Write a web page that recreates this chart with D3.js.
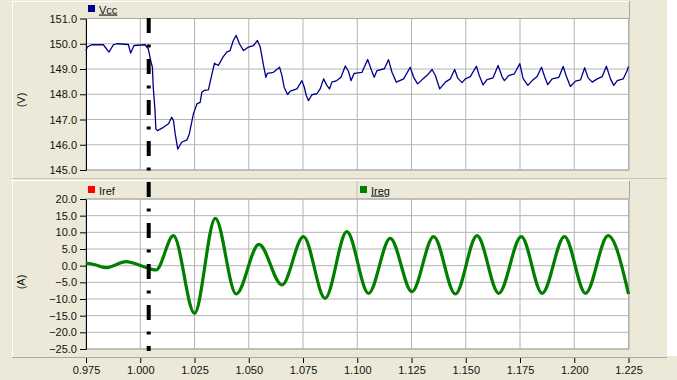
<!DOCTYPE html>
<html>
<head>
<meta charset="utf-8">
<script src="https://cdn.jsdelivr.net/npm/d3@7"></script>
<style>
  body { margin: 0; background: #fff; }
  svg { display: block; font-family: "Liberation Sans", Arial, sans-serif; }
</style>
</head>
<body>
<svg id="chart" width="677" height="380"></svg>
<script>
// x axis (time, s)
var xTicks = [0.975, 1.000, 1.025, 1.050, 1.075, 1.100, 1.125, 1.150, 1.175, 1.200, 1.225];
var vccTicks = [145, 146, 147, 148, 149, 150, 151];
var ampTicks = [-25, -20, -15, -10, -5, 0, 5, 10, 15, 20];
var eventTime = 1.0039;

// Vcc (V)
var vccTime = [0.9750, 0.9756, 0.9776, 0.9830, 0.9856, 0.9876, 0.9892, 0.9945, 0.9956, 0.9971,
  1.0022, 1.0037, 1.0048, 1.0056, 1.0060, 1.0068, 1.0072, 1.0079, 1.0107, 1.0130,
  1.0145, 1.0153, 1.0161, 1.0173, 1.0191, 1.0215, 1.0226, 1.0245, 1.0261, 1.0276,
  1.0284, 1.0294, 1.0314, 1.0322, 1.0342, 1.0360, 1.0381, 1.0399, 1.0414, 1.0429,
  1.0442, 1.0457, 1.0476, 1.0499, 1.0522, 1.0540, 1.0553, 1.0568, 1.0579, 1.0586,
  1.0614, 1.0642, 1.0653, 1.0663, 1.0679, 1.0691, 1.0722, 1.0745, 1.0756, 1.0765,
  1.0775, 1.0791, 1.0814, 1.0829, 1.0845, 1.0860, 1.0872, 1.0883, 1.0906, 1.0925,
  1.0945, 1.0960, 1.0971, 1.0986, 1.1022, 1.1048, 1.1063, 1.1078, 1.1091, 1.1125,
  1.1144, 1.1160, 1.1180, 1.1214, 1.1244, 1.1260, 1.1278, 1.1298, 1.1321, 1.1345,
  1.1360, 1.1380, 1.1406, 1.1429, 1.1449, 1.1463, 1.1483, 1.1498, 1.1521, 1.1549,
  1.1564, 1.1580, 1.1598, 1.1626, 1.1649, 1.1667, 1.1678, 1.1698, 1.1724, 1.1749,
  1.1764, 1.1786, 1.1806, 1.1829, 1.1849, 1.1867, 1.1878, 1.1898, 1.1929, 1.1949,
  1.1964, 1.1982, 1.2006, 1.2029, 1.2048, 1.2064, 1.2083, 1.2106, 1.2129, 1.2148,
  1.2167, 1.2182, 1.2198, 1.2226, 1.2244, 1.2250];
var vccValues = [149.73, 149.87, 149.96, 149.96, 149.67, 149.96, 150.00, 149.97, 149.63, 149.93,
  149.96, 149.80, 149.34, 149.07, 148.28, 147.35, 146.63, 146.56, 146.69, 146.83,
  147.09, 146.96, 146.43, 145.83, 146.10, 146.19, 146.43, 147.22, 147.62, 147.68,
  148.08, 148.15, 148.17, 148.48, 149.23, 149.14, 149.47, 149.67, 149.73, 150.13,
  150.33, 150.00, 149.73, 149.87, 149.93, 150.13, 149.87, 149.14, 148.67, 148.83,
  148.87, 149.07, 148.74, 148.28, 147.99, 148.12, 148.21, 148.54, 148.28, 147.95,
  147.75, 147.98, 148.02, 148.21, 148.61, 148.35, 148.21, 148.48, 148.54, 148.67,
  149.12, 148.90, 148.54, 148.83, 148.87, 149.38, 149.01, 148.67, 148.94, 149.01,
  149.37, 148.87, 148.48, 148.61, 149.07, 148.67, 148.41, 148.57, 148.74, 148.98,
  148.74, 148.21, 148.48, 148.61, 148.98, 148.64, 148.46, 148.61, 148.70, 149.11,
  148.70, 148.37, 148.58, 148.65, 149.14, 148.70, 148.54, 148.74, 148.81, 149.21,
  148.63, 148.35, 148.54, 148.70, 149.07, 148.61, 148.38, 148.61, 148.67, 149.10,
  148.70, 148.31, 148.52, 148.57, 149.05, 148.65, 148.48, 148.61, 148.70, 149.11,
  148.61, 148.35, 148.54, 148.61, 148.94, 149.10];

// Ireg / Iref (A): turning points of the current waveform
var ampTime = [0.9750, 0.9796, 0.9842, 0.9935, 1.0004, 1.0073, 1.0153, 1.0250, 1.0346, 1.0442,
  1.0547, 1.0653, 1.0752, 1.0852, 1.0952, 1.1052, 1.1152, 1.1252, 1.1352, 1.1452,
  1.1552, 1.1652, 1.1756, 1.1852, 1.1955, 1.2052, 1.2156, 1.2250];
var iregValues = [0.8, 0.2, -0.6, 1.2, 0.0, -1.3, 9.0, -14.3, 14.2, -8.5,
  6.4, -5.8, 8.7, -9.8, 10.2, -8.3, 8.2, -7.8, 8.7, -8.5,
  9.0, -8.3, 8.7, -8.3, 8.7, -8.3, 9.0, -8.5];
var irefValues = iregValues.slice();

var svg = d3.select("#chart");
var W = 677, H = 380;
var bg = "#ece9d8", gridColor = "#b4b4b4";

var x = d3.scaleLinear().domain([0.975, 1.225]).range([86, 628.5]);
var yV = d3.scaleLinear().domain([145, 151]).range([170, 18.5]);
var yA = d3.scaleLinear().domain([-25, 20]).range([349, 199]);

// window background
svg.append("rect").attr("width", W).attr("height", H).attr("fill", bg);
svg.append("rect").attr("x", 667).attr("width", 10).attr("height", 356).attr("fill", "#fff");

function hline(y, x1, x2, color) {
  svg.append("line").attr("x1", x1).attr("x2", x2).attr("y1", y).attr("y2", y)
    .attr("stroke", color).attr("stroke-width", 1);
}
function vline(xp, y1, y2, color) {
  svg.append("line").attr("x1", xp).attr("x2", xp).attr("y1", y1).attr("y2", y2)
    .attr("stroke", color).attr("stroke-width", 1);
}

// frame bevels
vline(12.5, 1, 357, "#fff");
hline(1.5, 12, 629, "#fff");
vline(629.5, 1, 19, "#a8a8a8");
hline(178.5, 12, 667, "#c8c5b5");
hline(180.5, 12, 629, "#fff");
vline(629.5, 181, 199, "#a8a8a8");
vline(357, 181, 199, "#c0c0c0");
hline(357.5, 12, 667, "#a8a8a8");

function panel(yScale, ticks) {
  var top = yScale.range()[1], bottom = yScale.range()[0];
  var g = svg.append("g");
  g.append("rect").attr("x", 86).attr("y", top).attr("width", 629 - 86).attr("height", bottom - top)
    .attr("fill", "#fff");
  g.selectAll(".hg").data(ticks).enter().append("line")
    .attr("x1", 86).attr("x2", 629)
    .attr("y1", function(d) { return yScale(d); }).attr("y2", function(d) { return yScale(d); })
    .attr("stroke", gridColor);
  g.selectAll(".vg").data(xTicks.slice(1)).enter().append("line")
    .attr("x1", function(d) { return x(d); }).attr("x2", function(d) { return x(d); })
    .attr("y1", top).attr("y2", bottom)
    .attr("stroke", gridColor);
  g.append("rect").attr("x", 86).attr("y", top).attr("width", 629 - 86).attr("height", bottom - top)
    .attr("fill", "none").attr("stroke", "#a8a8a8");

  var ax = svg.append("g").attr("transform", "translate(86,0)")
    .call(d3.axisLeft(yScale).tickValues(ticks).tickFormat(d3.format(".1f"))
      .tickSize(6).tickPadding(3).tickSizeOuter(0));
  ax.selectAll("text").attr("font-family", "Liberation Sans, Arial, sans-serif")
    .attr("font-size", 11).attr("fill", "#111");
  ax.select(".domain").attr("stroke", "#000");
  ax.selectAll(".tick line").attr("stroke", "#000");
}

panel(yV, vccTicks);
panel(yA, ampTicks);

// traces
var vccLine = d3.line()
  .x(function(d, i) { return x(vccTime[i]); })
  .y(function(d) { return yV(d); });
svg.append("path").datum(vccValues).attr("d", vccLine)
  .attr("fill", "none").attr("stroke", "#00008b").attr("stroke-width", 1.3)
  .attr("stroke-linejoin", "round");

var ampLine = d3.line()
  .x(function(d, i) { return x(ampTime[i]); })
  .y(function(d) { return yA(d); })
  .curve(d3.curveMonotoneX);
svg.append("path").datum(irefValues).attr("d", ampLine)
  .attr("fill", "none").attr("stroke", "#ff0000").attr("stroke-width", 2);
svg.append("path").datum(iregValues).attr("d", ampLine)
  .attr("fill", "none").attr("stroke", "#008000").attr("stroke-width", 3.2)
  .attr("stroke-linejoin", "round");

// event marker
svg.append("line")
  .attr("x1", x(eventTime)).attr("x2", x(eventTime))
  .attr("y1", 18).attr("y2", 351)
  .attr("stroke", "#000").attr("stroke-width", 4)
  .attr("stroke-dasharray", "15,11.5,3,11.5");

// x axis
var xa = svg.append("g").attr("transform", "translate(0,358)")
  .call(d3.axisBottom(x).tickValues(xTicks).tickFormat(d3.format(".3f"))
    .tickSize(5).tickPadding(3).tickSizeOuter(0));
xa.select(".domain").remove();
xa.selectAll(".tick line").attr("stroke", "#000");
xa.selectAll("text").attr("font-family", "Liberation Sans, Arial, sans-serif")
  .attr("font-size", 11).attr("fill", "#111");

// axis titles
svg.append("text").attr("transform", "translate(25,100) rotate(-90)")
  .attr("text-anchor", "middle").attr("font-size", 11).attr("fill", "#111").text("(V)");
svg.append("text").attr("transform", "translate(25,282) rotate(-90)")
  .attr("text-anchor", "middle").attr("font-size", 11).attr("fill", "#111").text("(A)");

// legends
var legends = [
  {name: "Vcc", color: "#00008b", x: 88, y: 5, underline: true},
  {name: "Iref", color: "#ff0000", x: 88, y: 186, underline: false},
  {name: "Ireg", color: "#008000", x: 360, y: 186, underline: true}
];
var lg = svg.selectAll(".legend").data(legends).enter().append("g");
lg.append("rect")
  .attr("x", function(d) { return d.x; }).attr("y", function(d) { return d.y; })
  .attr("width", 7).attr("height", 7)
  .attr("fill", function(d) { return d.color; });
lg.append("text")
  .attr("x", function(d) { return d.x + 11; }).attr("y", function(d) { return d.y + 8.5; })
  .attr("font-size", 11).attr("fill", "#111")
  .attr("text-decoration", function(d) { return d.underline ? "underline" : null; })
  .text(function(d) { return d.name; });
</script>
</body>
</html>
